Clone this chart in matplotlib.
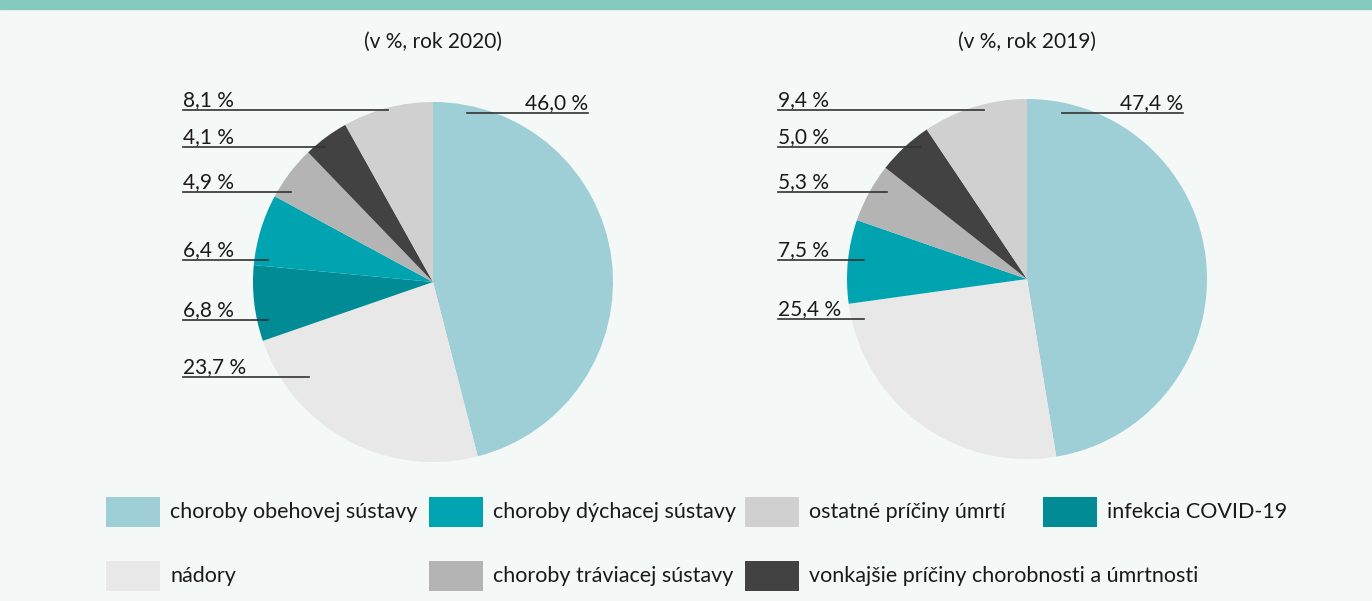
import numpy as np
import matplotlib
matplotlib.use("Agg")
import matplotlib.pyplot as plt
from matplotlib.patches import Rectangle
from matplotlib.lines import Line2D

plt.rcParams['font.family'] = ['Lato', 'DejaVu Sans']

# data
categories = ["choroby obehovej sústavy", "nádory", "infekcia COVID-19",
              "choroby dýchacej sústavy", "choroby tráviacej sústavy",
              "vonkajšie príčiny chorobnosti a úmrtnosti", "ostatné príčiny úmrtí"]
colors = ["#9ecfd6", "#e8e8e8", "#008b95", "#00a4b0", "#b4b4b4", "#424242", "#d0d0d0"]

values_2020 = [46.0, 23.7, 6.8, 6.4, 4.9, 4.1, 8.1]
values_2019 = [47.4, 25.4, 0.0, 7.5, 5.3, 5.0, 9.4]
titles = ["(v %, rok 2020)", "(v %, rok 2019)"]

legend_order = [[0, 3, 6, 2], [1, 4, 5]]

W, H = 1372, 601
BG = "#f4f8f7"

fig = plt.figure(figsize=(W / 100, H / 100), dpi=100, facecolor=BG)


def fx(x):
    return x / W


def fy(y):
    return 1 - y / H


# top band
fig.patches.append(Rectangle((0, fy(9)), 1, 9 / H, transform=fig.transFigure,
                             color="#85cbbd", zorder=0))

# layout of each pie: center, radius, label lines (y, x_end), left text x
pies = [
    dict(vals=values_2020, cx=433, cy=282, r=180, title=titles[0], tx=183,
         ly=[113, 377, 320, 260, 192, 147, 110],
         lx=[(467, 588), 309, 268, 268, 291, 325, 388]),
    dict(vals=values_2019, cx=1027, cy=279, r=180, title=titles[1], tx=778,
         ly=[113, 319, None, 260, 192, 147, 110],
         lx=[(1062, 1183), 864, None, 864, 887, 921, 984]),
]

for p in pies:
    cx, cy, r = p["cx"], p["cy"], p["r"]
    ax = fig.add_axes([fx(cx - r), fy(cy + r), 2 * r / W, 2 * r / H])
    ax.pie(p["vals"], colors=colors, startangle=90, counterclock=False,
           radius=1, wedgeprops=dict(linewidth=0))
    ax.set_xlim(-1, 1)
    ax.set_ylim(-1, 1)
    ax.axis("off")
    ax.patch.set_visible(False)

    fig.text(fx(cx), fy(42), p["title"], ha="center", va="center",
             fontsize=15, color="#1a1a1a")

    for i, v in enumerate(p["vals"]):
        if v == 0:
            continue
        label = f"{v:.1f} %".replace(".", ",")
        y = p["ly"][i]
        if isinstance(p["lx"][i], tuple):
            x0, x1 = p["lx"][i]
            fig.text(fx(x1), fy(y - 4), label, ha="right", va="baseline",
                     fontsize=15, color="#1a1a1a")
        else:
            x0, x1 = p["tx"], p["lx"][i]
            fig.text(fx(x0), fy(y - 4), label, ha="left", va="baseline",
                     fontsize=15, color="#1a1a1a")
        fig.lines.append(Line2D([fx(x0), fx(x1)], [fy(y), fy(y)],
                                transform=fig.transFigure, color="#333333",
                                linewidth=1.2, zorder=5))

# legend
col_x = [106, 429, 745, 1043]
row_y = [512, 576]
for ri, row in enumerate(legend_order):
    for ci, k in enumerate(row):
        x, y = col_x[ci], row_y[ri]
        fig.patches.append(Rectangle((fx(x), fy(y + 15)), 54 / W, 30 / H,
                                     transform=fig.transFigure,
                                     color=colors[k], linewidth=0))
        fig.text(fx(x + 64), fy(y), categories[k], ha="left", va="center",
                 fontsize=15.5, color="#1a1a1a")

fig.savefig("out.png", dpi=100, facecolor=BG)
